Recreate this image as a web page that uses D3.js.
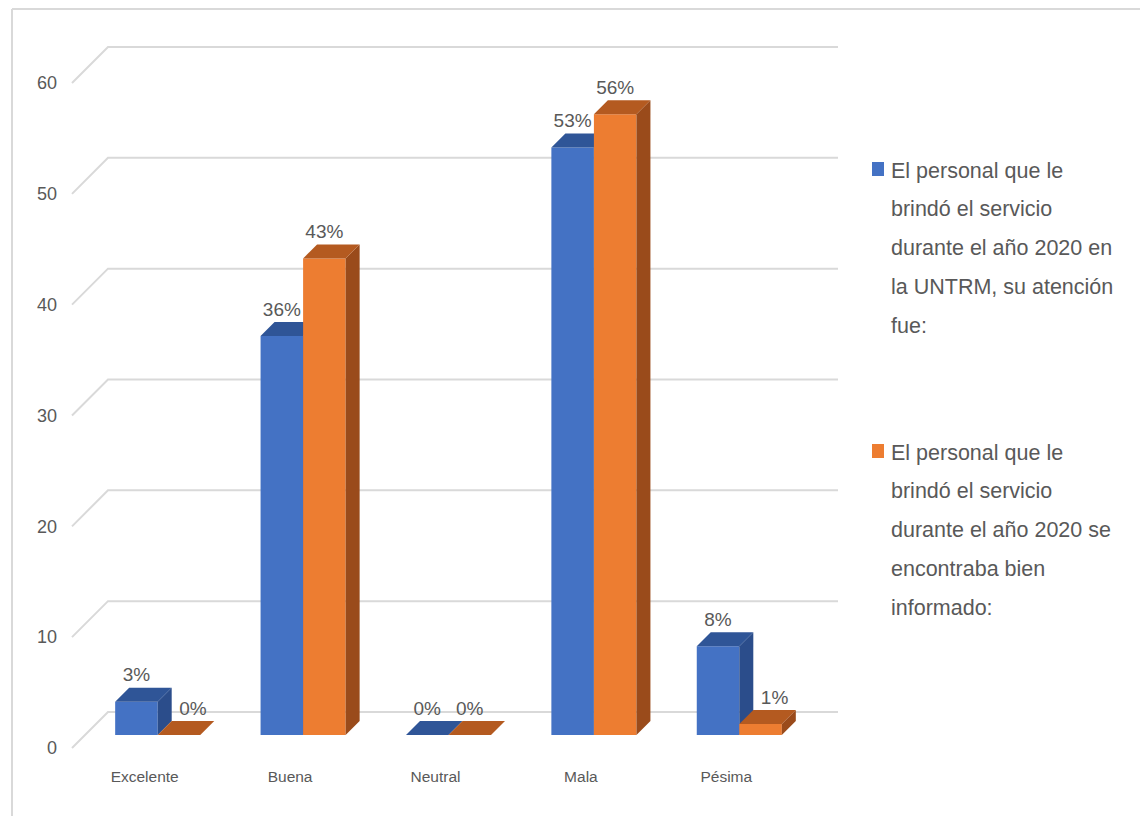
<!DOCTYPE html>
<html>
<head>
<meta charset="utf-8">
<script src="https://cdn.jsdelivr.net/npm/d3@7"></script>
<style>
  html, body { margin: 0; padding: 0; background: #fff; }
  svg { display: block; }
  text { font-family: "Liberation Sans", Arial, sans-serif; fill: #595959; }
</style>
</head>
<body>
<script>
// Survey results (percent of respondents) per rating
const categories = ["Excelente", "Buena", "Neutral", "Mala", "Pésima"];
const seriesAtencion = [3, 36, 0, 53, 8];
const seriesInformado = [0, 43, 0, 56, 1];
const yTicks = [0, 10, 20, 30, 40, 50, 60];
const seriesNames = ["atencion", "informado"];
const legendLines = [
  ["El personal que le", "brindó el servicio", "durante el año 2020 en", "la UNTRM, su atención", "fue:"],
  ["El personal que le", "brindó el servicio", "durante el año 2020 se", "encontraba bien", "informado:"]
];

const W = 1140, H = 816;
const svg = d3.select("body").append("svg").attr("width", W).attr("height", H);

// Outer frame (top and left edges)
svg.append("line").attr("x1", 12).attr("y1", 9).attr("x2", W).attr("y2", 9)
  .attr("stroke", "#d9d9d9").attr("stroke-width", 2);
svg.append("line").attr("x1", 12).attr("y1", 9).attr("x2", 12).attr("y2", H)
  .attr("stroke", "#d9d9d9").attr("stroke-width", 2);

// Oblique 3D projection: depth d moves a point right and up by d pixels
const WALL_DEPTH = 36, BAR_FRONT = 13, BAR_BACK = 27;
const x = d3.scaleBand().domain(categories).range([72, 799]).paddingInner(0.415).paddingOuter(0.2075);
const xs = d3.scaleBand().domain(seriesNames).range([0, x.bandwidth()]);
const y = d3.scaleLinear().domain([0, 60]).range([748, 83]);
const P = (px, py, d) => [px + d, py - d];

const colors = {
  atencion: { front: "#4472c4", top: "#2f5597", side: "#2b4d8b" },
  informado: { front: "#ed7d31", top: "#b45a20", side: "#9a4b1b" }
};

// Gridlines: diagonal on the left floor/wall edge plus line on the back wall
const grid = svg.append("g").attr("stroke", "#d9d9d9").attr("stroke-width", 2).attr("fill", "none");
yTicks.forEach(t => {
  const a = P(72, y(t), 0), b = P(72, y(t), WALL_DEPTH), c = P(802, y(t), WALL_DEPTH);
  grid.append("path").attr("d", d3.line()([a, b, c]));
});

// Value axis labels
svg.append("g").selectAll("text").data(yTicks).join("text")
  .attr("x", 57).attr("y", d => y(d)).attr("dy", "0.35em")
  .attr("text-anchor", "end").attr("font-size", 18)
  .text(d => d);

// Bars
const data = categories.map((c, i) => ({
  cat: c,
  vals: [
    { s: "atencion", v: seriesAtencion[i] },
    { s: "informado", v: seriesInformado[i] }
  ]
}));

const barsG = svg.append("g");
const poly = pts => "M" + pts.map(p => p.join(",")).join("L") + "Z";
data.forEach(g => {
  g.vals.forEach(b => {
    const x0 = x(g.cat) + xs(b.s), x1 = x0 + xs.bandwidth();
    const yT = y(b.v), yB = y(0);
    const col = colors[b.s];
    const front = [P(x0, yB, BAR_FRONT), P(x1, yB, BAR_FRONT), P(x1, yT, BAR_FRONT), P(x0, yT, BAR_FRONT)];
    const top = [P(x0, yT, BAR_FRONT), P(x1, yT, BAR_FRONT), P(x1, yT, BAR_BACK), P(x0, yT, BAR_BACK)];
    const side = [P(x1, yB, BAR_FRONT), P(x1, yB, BAR_BACK), P(x1, yT, BAR_BACK), P(x1, yT, BAR_FRONT)];
    barsG.append("path").attr("d", poly(front)).attr("fill", col.front);
    barsG.append("path").attr("d", poly(side)).attr("fill", col.side);
    barsG.append("path").attr("d", poly(top)).attr("fill", col.top);
  });
});

// Data labels above each bar; a short second bar next to a taller one gets its label nudged right
const labelsG = svg.append("g");
data.forEach(g => {
  g.vals.forEach((b, j) => {
    const x0 = x(g.cat) + xs(b.s);
    let cx = x0 + xs.bandwidth() / 2 + BAR_FRONT;
    if (j === 1 && g.vals[0].v > b.v + 1) cx += BAR_BACK - BAR_FRONT;
    const cy = y(b.v) - BAR_BACK - 13;
    labelsG.append("text").attr("x", cx).attr("y", cy).attr("dy", "0.35em")
      .attr("text-anchor", "middle").attr("font-size", 19).text(b.v + "%");
  });
});

// Category labels on the front plane
svg.append("g").selectAll("text").data(categories).join("text")
  .attr("x", d => x(d) + x.bandwidth() / 2).attr("y", 777).attr("dy", "0.35em")
  .attr("text-anchor", "middle").attr("font-size", 15.5).text(d => d);

// Legend
const legendTop = [170, 452];
const legend = svg.append("g");
seriesNames.forEach((s, i) => {
  legend.append("rect").attr("x", 872).attr("y", legendTop[i] - 8).attr("width", 12).attr("height", 14)
    .attr("fill", colors[s].front);
  legendLines[i].forEach((line, k) => {
    legend.append("text").attr("x", 891).attr("y", legendTop[i] + k * 38.8).attr("dy", "0.35em")
      .attr("font-size", 21.5).text(line);
  });
});
</script>
</body>
</html>
